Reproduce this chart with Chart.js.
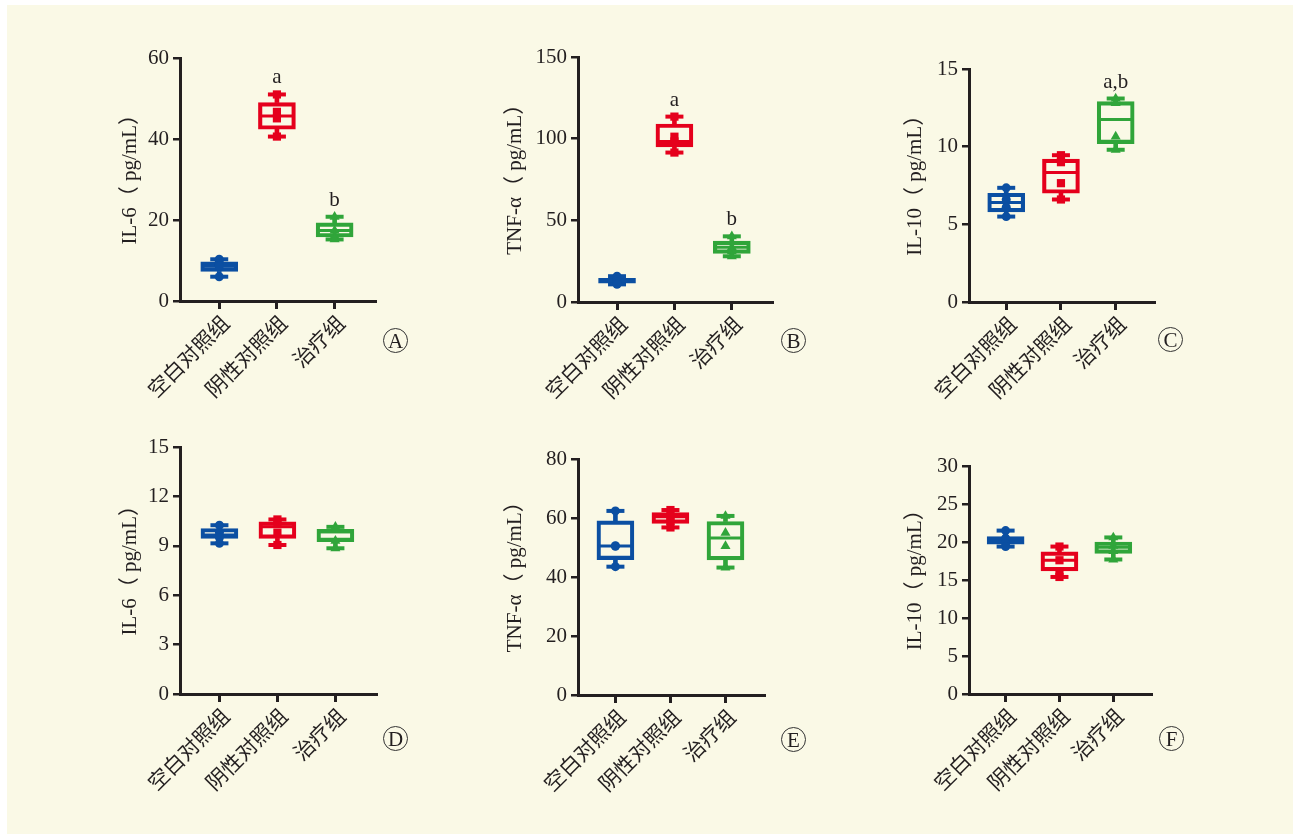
<!DOCTYPE html>
<html>
<head>
<meta charset="utf-8">
<script src="https://cdn.jsdelivr.net/npm/chart.js@4.4.1/dist/chart.umd.min.js"></script>
<style>
  body { margin: 0; background: #ffffff; width: 1293px; height: 834px; overflow: hidden; }
  #page { position: absolute; left: 7px; top: 5px; width: 1286px; height: 829px; background: #faf9e6; }
  .panel { position: absolute; }
  .tag {
    position: absolute; width: 23px; height: 23px; border: 1.5px solid #333;
    border-radius: 50%; text-align: center; line-height: 24px; color: #231f20;
    font: 21px "Liberation Serif", serif;
  }
</style>
</head>
<body>
<div id="page"></div>
<script>
const groups = ['空白对照组', '阴性对照组', '治疗组'];
const groupColors = ['#0b4fa2', '#e5001c', '#30a53a'];
const groupMarkers = ['circle', 'rect', 'triangle'];

// A - IL-6, first experiment
const aMin = [6.0, 40.6, 15.2];
const aQ1 = [7.3, 42.4, 15.8];
const aMedian = [8.6, 45.7, 17.4];
const aQ3 = [9.7, 49.0, 19.3];
const aMax = [10.3, 51.0, 20.8];
const aPoints = [[10.3, 9.7, 9.2, 8.6, 6.0], [51.0, 46.7, 45.1, 40.6], [20.8, 17.4, 16.1, 15.2]];
const aLetters = ['', 'a', 'b'];

// B - TNF-a
const bMin = [10.8, 91.5, 28.0];
const bQ1 = [11.5, 95.0, 29.8];
const bMedian = [13.0, 98.3, 33.5];
const bQ3 = [14.5, 109.0, 37.3];
const bMax = [15.8, 113.5, 40.2];
const bPoints = [[15.8, 13.5, 12.2, 10.8], [113.5, 101.2, 98.3, 91.5], [40.2, 33.5, 31.0, 28.0]];
const bLetters = ['', 'a', 'b'];

// C - IL-10
const cMin = [5.5, 6.6, 9.8];
const cQ1 = [5.8, 7.0, 10.2];
const cMedian = [6.4, 8.33, 11.75];
const cQ3 = [7.0, 9.2, 12.9];
const cMax = [7.35, 9.45, 13.1];
const cPoints = [[7.35, 6.6, 6.1, 5.5], [9.45, 9.0, 7.65, 6.6], [13.1, 12.8, 10.65, 9.8]];
const cLetters = ['', '', 'a,b'];

// D - IL-6, second experiment
const dMin = [9.15, 9.05, 8.85];
const dQ1 = [9.45, 9.45, 9.25];
const dMedian = [9.65, 10.15, 9.85];
const dQ3 = [10.05, 10.45, 10.0];
const dMax = [10.25, 10.6, 10.15];
const dPoints = [[10.25, 9.8, 9.5, 9.15], [10.6, 10.4, 9.8, 9.05], [10.15, 9.95, 9.3, 8.85]];

// E - TNF-a
const eMin = [43.5, 56.8, 43.2];
const eQ1 = [45.9, 58.2, 45.8];
const eMedian = [50.5, 60.4, 53.2];
const eQ3 = [59.0, 61.8, 58.8];
const eMax = [62.4, 62.7, 60.7];
const ePoints = [[62.4, 50.6, 50.4, 43.5], [62.7, 60.5, 59.0, 56.8], [60.7, 55.0, 50.5, 43.2]];

// F - IL-10
const fMin = [19.4, 15.4, 17.7];
const fQ1 = [19.7, 16.2, 18.5];
const fMedian = [20.1, 17.6, 19.3];
const fQ3 = [20.7, 18.7, 20.0];
const fMax = [21.5, 19.4, 20.6];
const fPoints = [[21.5, 20.5, 19.8, 19.4], [19.4, 17.6, 16.1, 15.4], [20.6, 19.5, 18.8, 17.7]];

const noLetters = ['', '', ''];

// en space in front balances the blank half of the closing bracket
const panels = [
  { tag: 'A', title: '\u2002IL-6（ pg/mL）', yMax: 60, step: 20, stats: [aMin, aQ1, aMedian, aQ3, aMax], points: aPoints, letters: aLetters,
    left: 180, right: 375, top: 58, bottom: 301, yW: 62, tagX: 396, tagY: 341 },
  { tag: 'B', title: '\u2002TNF-α（ pg/mL）', yMax: 150, step: 50, stats: [bMin, bQ1, bMedian, bQ3, bMax], points: bPoints, letters: bLetters,
    left: 578, right: 772, top: 57, bottom: 302, yW: 75, tagX: 794, tagY: 341 },
  { tag: 'C', title: '\u2002IL-10（ pg/mL）', yMax: 15, step: 5, stats: [cMin, cQ1, cMedian, cQ3, cMax], points: cPoints, letters: cLetters,
    left: 969, right: 1154, top: 69, bottom: 302, yW: 66, tagX: 1171, tagY: 340 },
  { tag: 'D', title: '\u2002IL-6（ pg/mL）', yMax: 15, step: 3, stats: [dMin, dQ1, dMedian, dQ3, dMax], points: dPoints, letters: noLetters,
    left: 180, right: 376, top: 447, bottom: 694, yW: 62, tagX: 396, tagY: 739 },
  { tag: 'E', title: '\u2002TNF-α（ pg/mL）', yMax: 80, step: 20, stats: [eMin, eQ1, eMedian, eQ3, eMax], points: ePoints, letters: noLetters,
    left: 578, right: 764, top: 459, bottom: 695, yW: 75, tagX: 794, tagY: 740 },
  { tag: 'F', title: '\u2002IL-10（ pg/mL）', yMax: 30, step: 5, stats: [fMin, fQ1, fMedian, fQ3, fMax], points: fPoints, letters: noLetters,
    left: 969, right: 1151, top: 466, bottom: 694, yW: 66, tagX: 1172, tagY: 739 }
];

const ink = '#231f20';
const serif = '"Liberation Serif", "Noto Sans CJK SC", serif';

// letters (a, b) over the groups that differ
const lettersPlugin = {
  id: 'letters',
  afterDatasetsDraw(chart, args, opts) {
    const { ctx, scales } = chart;
    ctx.save();
    ctx.font = '21px ' + serif;
    ctx.fillStyle = ink;
    ctx.textAlign = 'center';
    ctx.textBaseline = 'alphabetic';
    opts.letters.forEach((t, i) => {
      if (!t) return;
      ctx.fillText(t, scales.x.getPixelForValue(i), scales.y.getPixelForValue(opts.maxes[i]) - 11);
    });
    ctx.restore();
  }
};

function makePanel(p) {
  const padTop = 14, padRight = 6, xH = 115;
  const w = p.yW + (p.right - p.left) + padRight;
  const h = padTop + (p.bottom - p.top) + xH;

  const div = document.createElement('div');
  div.className = 'panel';
  const canvas = document.createElement('canvas');
  canvas.width = w;
  canvas.height = h;
  div.appendChild(canvas);
  document.body.appendChild(div);

  const tag = document.createElement('div');
  tag.className = 'tag';
  tag.textContent = p.tag;
  tag.style.left = (p.tagX - 13) + 'px';
  tag.style.top = (p.tagY - 13) + 'px';
  document.body.appendChild(tag);

  const [mn, q1, md, q3, mx] = p.stats;
  const idx = groups.map((g, i) => i);
  const datasets = [];

  // single values
  groups.forEach((g, i) => {
    datasets.push({
      type: 'scatter',
      data: p.points[i].map(v => ({ x: i, y: v })),
      pointStyle: groupMarkers[i],
      pointRadius: groupMarkers[i] === 'circle' ? 4.5 : 5.8,
      pointBackgroundColor: groupColors[i],
      pointBorderWidth: 0
    });
  });
  // median line
  groups.forEach((g, i) => {
    datasets.push({
      type: 'scatter',
      data: [{ x: i, y: md[i] }],
      pointStyle: 'line',
      pointRadius: 17,
      pointBorderColor: groupColors[i],
      pointBorderWidth: 3
    });
  });
  // whisker caps
  groups.forEach((g, i) => {
    datasets.push({
      type: 'scatter',
      data: [{ x: i, y: mn[i] }, { x: i, y: mx[i] }],
      pointStyle: 'line',
      pointRadius: 9,
      pointBorderColor: groupColors[i],
      pointBorderWidth: 4
    });
  });
  // box q1-q3
  datasets.push({
    type: 'bar',
    data: idx.map(i => ({ x: i, y: [q1[i], q3[i]] })),
    backgroundColor: 'rgba(0,0,0,0)',
    borderColor: groupColors,
    borderWidth: 3.5,
    borderSkipped: false,
    barThickness: 37,
    grouped: false
  });
  // whiskers
  datasets.push({
    type: 'bar',
    data: idx.map(i => ({ x: i, y: [mn[i], q1[i]] })),
    backgroundColor: groupColors,
    borderWidth: 0,
    barThickness: 4,
    grouped: false
  });
  datasets.push({
    type: 'bar',
    data: idx.map(i => ({ x: i, y: [q3[i], mx[i]] })),
    backgroundColor: groupColors,
    borderWidth: 0,
    barThickness: 4,
    grouped: false
  });

  const chart = new Chart(canvas.getContext('2d'), {
    type: 'bar',
    data: { datasets: datasets },
    options: {
      responsive: false,
      maintainAspectRatio: false,
      animation: false,
      events: [],
      layout: { padding: { top: padTop, right: padRight, left: 0, bottom: 0 } },
      plugins: {
        legend: { display: false },
        tooltip: { enabled: false },
        letters: { letters: p.letters, maxes: mx }
      },
      scales: {
        x: {
          type: 'linear',
          min: -0.68,
          max: 2.7,
          offset: false,
          afterBuildTicks: s => { s.ticks = idx.map(i => ({ value: i })); },
          afterFit: s => { s.height = xH; },
          grid: { display: true, drawOnChartArea: false, drawTicks: true, tickLength: 8, color: ink, lineWidth: 3, offset: false },
          border: { display: true, color: ink, width: 3 },
          ticks: {
            autoSkip: false,
            minRotation: 45,
            maxRotation: 45,
            padding: 1,
            labelOffset: 6,
            color: ink,
            font: { family: '"Noto Sans CJK SC", sans-serif', size: 21 },
            callback: v => groups[v]
          }
        },
        y: {
          min: 0,
          max: p.yMax,
          afterFit: s => { s.width = p.yW; },
          grid: { display: true, drawOnChartArea: false, drawTicks: true, tickLength: 7, color: ink, lineWidth: 2.5 },
          border: { display: true, color: ink, width: 3 },
          ticks: { stepSize: p.step, padding: 4, color: ink, font: { family: serif, size: 21 } },
          title: { display: true, text: p.title, color: ink, padding: 0, font: { family: serif, size: 21 } }
        }
      }
    },
    plugins: [lettersPlugin]
  });

  // grow the canvas until the plot area has the wanted size, then place it
  for (let k = 0; k < 3; k++) {
    const a = chart.chartArea;
    const dw = (p.right - p.left) - (a.right - a.left);
    const dh = (p.bottom - p.top) - (a.bottom - a.top);
    if (Math.abs(dw) < 0.5 && Math.abs(dh) < 0.5) break;
    chart.resize(Math.round(chart.width + dw), Math.round(chart.height + dh));
  }
  div.style.left = (p.left - chart.chartArea.left) + 'px';
  div.style.top = (p.top - chart.chartArea.top) + 'px';
}

panels.forEach(makePanel);
</script>
</body>
</html>
